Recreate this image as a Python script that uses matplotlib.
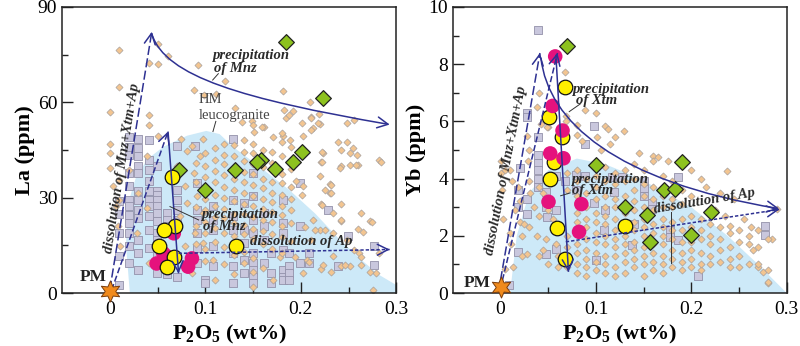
import matplotlib
matplotlib.use("Agg")
import matplotlib.pyplot as plt
from matplotlib.path import Path
from matplotlib.patches import Polygon, FancyArrowPatch

plt.rcParams['font.family'] = ['Liberation Serif', 'DejaVu Serif']
plt.rcParams['mathtext.fontset'] = 'custom'
plt.rcParams['mathtext.rm'] = 'Liberation Serif:bold'
plt.rcParams['mathtext.default'] = 'rm'

# ---------------------------------------------------------------- data: La
# background leucogranite data (P2O5 wt%, La ppm)
la_dia_scatter = [
    (0.010, 76.6), (0.050, 78.2), (0.061, 74.5), (0.041, 72.4), (0.050, 72.1),
    (0.010, 64.8), (0.121, 66.8), (0.092, 71.6), (0.088, 63.8), (0.099, 62.4),
    (0.111, 62.6), (0.000, 56.9), (0.041, 55.9), (0.041, 53.0), (0.051, 49.5),
    (0.000, 47.0), (0.000, 43.9), (0.000, 39.3), (0.010, 35.7), (0.003, 33.6),
    (0.006, 27.3), (0.131, 58.2), (0.181, 63.5), (0.182, 57.7), (0.192, 57.4),
    (0.184, 55.1), (0.211, 55.4), (0.219, 56.4), (0.201, 53.5), (0.138, 53.7),
    (0.149, 54.0), (0.151, 50.6), (0.161, 52.3), (0.171, 49.1), (0.181, 49.3),
    (0.189, 48.1), (0.202, 49.3), (0.213, 51.9), (0.220, 53.3), (0.248, 53.5),
    (0.256, 54.4), (0.248, 47.4), (0.255, 45.6), (0.251, 43.9), (0.259, 43.3),
    (0.260, 40.4), (0.251, 40.4), (0.282, 41.8), (0.242, 39.9), (0.223, 44.1),
    (0.221, 41.2), (0.230, 34.3), (0.231, 31.5), (0.221, 28.0), (0.242, 28.1),
    (0.242, 22.6), (0.260, 20.1), (0.263, 25.2), (0.272, 22.6), (0.282, 12.6),
    (0.279, 6.3), (0.263, 8.7), (0.251, 8.4), (0.242, 8.4), (0.221, 7.6),
    (0.275, 1.0), (0.201, 31.0), (0.195, 35.2), (0.202, 33.6), (0.220, 36.7),
    (0.234, 18.9), (0.220, 19.9), (0.211, 16.8), (0.248, 16.8), (0.234, 25.2),
    (0.213, 23.1), (0.261, 12.6), (0.234, 11.5), (0.206, 10.5), (0.210, 60.2),
    (0.188, 56.0), (0.211, 55.0), (0.218, 53.4), (0.180, 50.3), (0.211, 51.3),
    (0.159, 52.3), (0.150, 52.9), (0.222, 44.5), (0.222, 41.3), (0.239, 47.6),
    (0.242, 45.0), (0.241, 39.2), (0.258, 40.3), (0.284, 41.3), (0.232, 34.0),
    (0.232, 31.4), (0.225, 32.4), (0.222, 27.7), (0.242, 23.0), (0.274, 22.4),
    (0.225, 19.8), (0.215, 19.8), (0.204, 20.9), (0.265, 19.3), (0.263, 11.4),
    (0.256, 13.5), (0.272, 6.7), (0.194, 11.4), (0.208, 9.9), (0.223, 8.8),
    (0.246, 8.8), (0.232, 6.7), (0.202, 6.2), (0.171, 4.1), (0.178, 11.4),
    (0.010, 29.4), (0.009, 21.0), (0.011, 14.7), (0.020, 38.8), (0.039, 43.0),
    (0.081, 44.6), (0.094, 43.0), (0.075, 48.3), (0.086, 46.2), (0.098, 48.3),
    (0.030, 31.5), (0.039, 26.8), (0.028, 18.9), (0.041, 9.4), (0.070, 39.9),
    (0.079, 33.6), (0.088, 37.8), (0.081, 28.3), (0.091, 30.4), (0.098, 25.2),
    (0.089, 18.9), (0.079, 14.7), (0.098, 15.7), (0.108, 10.5), (0.086, 6.3),
    (0.110, 4.2), (0.074, 24.1), (0.130, 6.0), (0.150, 2.0), (0.120, 9.0),
]
# columns of analyses reported at 0.01 wt% P2O5 steps
la_dia_columns = [
    (0.09, [41.0, 35.0, 27.0, 21.0, 15.5]),
    (0.10, [44.0, 40.0, 36.5, 29.5, 26.0, 22.5, 19.0, 14.0, 10.0]),
    (0.11, [45.5, 42.0, 38.5, 35.0, 31.0, 27.5, 24.0, 20.5, 16.0]),
    (0.12, [47.0, 43.5, 40.5, 37.0, 33.5, 30.0, 26.5, 23.5, 19.0, 14.5]),
    (0.13, [46.5, 43.0, 36.0, 32.5, 29.0, 25.0, 22.0, 18.0, 12.0]),
    (0.14, [48.0, 44.5, 41.5, 38.0, 35.0, 31.5, 28.0, 25.0, 21.5, 18.5, 13.0, 9.5]),
    (0.15, [47.0, 44.0, 40.5, 37.5, 34.0, 30.5, 27.5, 24.0, 20.0, 17.0, 11.0, 6.5]),
    (0.16, [45.0, 39.5, 36.0, 33.0, 29.5, 26.5, 23.0, 19.5, 15.5, 8.0]),
    (0.17, [44.5, 41.0, 35.0, 31.5, 28.5, 25.5, 22.5, 18.5, 14.0]),
    (0.18, [47.5, 43.0, 37.5, 34.5, 31.0, 27.5, 24.5, 21.0, 17.5, 12.5]),
    (0.19, [46.0, 39.0, 33.5, 29.5, 26.0, 22.0, 16.5]),
]
la_sq_columns = [
    (0.010, [29.0, 25.0, 19.0, 11.5, 2.6]),
    (0.020, [49.0, 46.0, 43.5, 37.8, 33.6, 29.4, 27.3, 24.7, 22.0, 18.9, 14.7, 9.4]),
    (0.030, [48.4, 45.6, 43.0, 40.0, 37.8, 32.0, 29.4, 26.2, 23.6, 16.8, 12.6, 7.3]),
    (0.041, [48.2, 42.0, 38.8, 35.1, 32.0, 29.4, 27.3, 24.1, 19.9, 14.1]),
    (0.049, [39.9, 32.0, 30.9, 29.4, 27.3, 25.2, 22.6, 18.9, 16.8, 12.6, 6.3]),
    (0.060, [25.2, 23.1, 21.0, 18.9, 6.0]),
    (0.070, [46.3, 32.5, 29.4, 26.2, 23.1, 5.2]),
    (0.089, [46.3]),
    (0.091, [34.6, 26.2, 23.1, 18.9, 14.2, 9.4]),
    (0.100, [4.2, 3.1]),
    (0.108, [27.3, 23.1, 19.9, 14.7, 8.4]),
    (0.129, [48.4, 29.4, 24.1, 19.9, 12.6, 8.4, 3.1]),
    (0.140, [28.3, 19.9, 15.7, 10.5, 6.3]),
    (0.150, [37.8, 30.4, 23.1, 18.9, 12.6, 9.4, 7.3, 5.2, 3.1]),
    (0.161, [25.2, 21.0, 16.8, 9.4]),
    (0.169, [12.6, 6.3, 3.1]),
    (0.181, [29.4, 22.0, 18.9, 13.6, 7.3, 5.2, 4.2]),
    (0.188, [12.6, 8.4, 6.3, 4.2]),
    (0.199, [34.6, 21.0, 9.4]),
    (0.209, [12.6, 9.4]),
    (0.228, [26.2]),
    (0.239, [8.4]),
    (0.249, [17.8]),
    (0.277, [8.9, 14.7]),
]
# sample groups
la_green = [(0.184, 79.1), (0.223, 61.5), (0.201, 44.3), (0.192, 41.3),
            (0.158, 41.9), (0.154, 41.3), (0.173, 38.9), (0.131, 38.7),
            (0.100, 32.4), (0.072, 38.7)]
la_magenta = [(0.086, 10.9), (0.082, 8.3), (0.049, 9.3), (0.067, 18.8),
              (0.056, 12.5), (0.061, 11.4)]
la_yellow = [(0.065, 36.6), (0.068, 21.1), (0.057, 19.8), (0.052, 14.8),
             (0.067, 11.4), (0.060, 8.3), (0.132, 14.8)]
la_pm = (0.0, 0.8)
# HM leucogranite field outline
la_field = [(0.021, 0), (0.017, 15), (0.019, 28), (0.027, 36), (0.039, 42),
            (0.056, 46), (0.081, 49.5), (0.101, 51), (0.115, 50), (0.129, 46),
            (0.160, 39), (0.188, 32.4), (0.215, 25), (0.241, 16.7),
            (0.265, 10), (0.282, 5.7), (0.300, 2.5), (0.300, 0)]

# ---------------------------------------------------------------- data: Yb
yb_dia_scatter = [
    (0.000, 4.6), (0.000, 4.2), (0.002, 3.6), (0.003, 2.6), (0.005, 0.85),
    (0.010, 4.3), (0.012, 3.9), (0.010, 2.1), (0.011, 1.7), (0.018, 3.7),
    (0.020, 3.2), (0.020, 2.5), (0.022, 2.0), (0.028, 5.5), (0.030, 5.0),
    (0.029, 4.6), (0.030, 3.9), (0.031, 3.5), (0.030, 2.3), (0.028, 1.35),
    (0.040, 7.0), (0.038, 6.5), (0.042, 5.9), (0.040, 3.7), (0.040, 2.7),
    (0.038, 2.0), (0.040, 1.3), (0.050, 5.8), (0.050, 2.9), (0.048, 1.9),
    (0.050, 1.0), (0.060, 1.3), (0.060, 0.9), (0.068, 7.74), (0.069, 6.19),
    (0.069, 6.0), (0.049, 5.82), (0.080, 5.88), (0.080, 5.53), (0.089, 6.4),
    (0.100, 6.29), (0.110, 5.84), (0.113, 5.75), (0.129, 5.68), (0.120, 5.45),
    (0.101, 5.47), (0.085, 5.3), (0.105, 5.0), (0.115, 5.2), (0.145, 4.9),
    (0.160, 4.8), (0.165, 4.75), (0.175, 4.6), (0.200, 4.3), (0.210, 4.0),
    (0.237, 4.25), (0.215, 3.7), (0.230, 3.5), (0.245, 3.3), (0.225, 2.9),
    (0.290, 2.95), (0.285, 1.9), (0.265, 1.5), (0.275, 0.75), (0.280, 0.35),
    (0.240, 2.35), (0.262, 2.3), (0.270, 0.9), (0.255, 2.6), (0.235, 2.7),
    (0.005, 4.3), (0.015, 2.9), (0.025, 2.4), (0.035, 3.0), (0.045, 3.5),
    (0.055, 2.6), (0.058, 1.7), (0.045, 1.5), (0.022, 1.3), (0.013, 0.9),
]
yb_dia_columns = [
    (0.07, [0.9, 1.3, 1.6, 2.0, 3.6, 4.2]),
    (0.08, [0.7, 1.0, 1.4, 1.7, 2.5, 2.8, 3.4, 3.9, 4.3]),
    (0.09, [0.6, 0.9, 1.2, 1.5, 1.9, 2.3, 2.6, 3.0, 3.5, 4.0]),
    (0.10, [0.8, 1.1, 1.4, 1.8, 2.1, 2.5, 2.8, 3.3, 3.7, 4.1]),
    (0.11, [0.7, 1.0, 1.3, 1.7, 2.0, 2.4, 2.7, 3.0, 3.4, 3.9, 4.4]),
    (0.12, [0.6, 0.9, 1.3, 1.6, 1.9, 2.2, 2.6, 3.0, 3.3, 3.8, 4.2]),
    (0.13, [0.7, 1.1, 1.4, 1.7, 2.0, 2.8, 3.4, 3.9, 4.3]),
    (0.14, [0.9, 1.2, 1.5, 1.8, 2.2, 2.5, 2.9, 3.2, 3.6, 4.0, 4.5]),
    (0.15, [0.6, 1.0, 1.3, 1.6, 2.0, 2.3, 2.6, 3.0, 3.4, 3.8, 4.3]),
    (0.16, [0.8, 1.1, 1.4, 1.7, 2.1, 2.4, 2.9, 3.3, 3.7, 4.6]),
    (0.17, [0.7, 1.0, 1.3, 1.7, 2.0, 2.3, 2.6, 3.0, 3.4, 4.1]),
    (0.18, [0.9, 1.2, 1.5, 1.9, 2.2, 2.5, 3.0, 3.3, 3.9]),
    (0.19, [0.8, 1.1, 1.4, 1.8, 2.2, 2.6, 3.1, 3.6]),
    (0.20, [0.9, 1.2, 1.5, 1.8, 2.3, 2.7, 3.4]),
    (0.21, [0.8, 1.0, 1.4, 1.9, 2.2, 2.6]),
    (0.22, [1.0, 1.3, 1.7, 2.0, 2.4]),
    (0.23, [1.1, 1.5, 1.9, 2.3]),
    (0.24, [0.9, 1.2, 1.6, 2.1]),
    (0.25, [0.9, 1.3, 1.8, 2.2]),
    (0.26, [1.0, 1.7, 2.0]),
    (0.27, [1.0, 1.6, 2.2]),
    (0.28, [0.4, 0.8, 1.9]),
]
yb_sq = [
    (0.039, 9.18), (0.028, 6.29), (0.028, 6.17), (0.039, 5.47), (0.039, 4.82),
    (0.039, 4.53), (0.039, 4.30), (0.039, 4.00), (0.039, 3.70), (0.020, 4.36),
    (0.018, 3.60), (0.028, 3.30), (0.028, 2.78), (0.018, 3.00), (0.048, 3.54),
    (0.048, 3.01), (0.049, 2.66), (0.058, 2.90), (0.058, 1.55), (0.048, 1.38),
    (0.018, 1.44), (0.098, 5.84), (0.089, 5.21), (0.079, 4.12), (0.089, 4.10),
    (0.098, 3.13), (0.100, 1.14), (0.108, 2.20), (0.119, 3.54), (0.117, 4.07),
    (0.127, 4.07), (0.138, 1.67), (0.150, 3.66), (0.150, 3.90), (0.150, 3.40),
    (0.159, 3.13), (0.159, 2.95), (0.178, 2.20), (0.178, 1.96), (0.186, 1.85),
    (0.186, 4.07), (0.207, 0.58), (0.277, 2.34), (0.277, 2.02), (0.009, 0.27),
    (0.068, 3.90), (0.079, 3.60), (0.058, 4.10), (0.110, 2.90), (0.140, 2.40),
]
yb_green = [(0.070, 8.64), (0.0997, 4.47), (0.190, 4.57), (0.1715, 3.60),
            (0.183, 3.62), (0.130, 3.01), (0.153, 2.72), (0.221, 2.84),
            (0.200, 2.02), (0.157, 1.79)]
yb_yellow = [(0.0674, 7.20), (0.0503, 6.17), (0.064, 5.44), (0.056, 4.59),
             (0.052, 3.98), (0.0587, 2.26), (0.130, 2.34), (0.0677, 1.20)]
yb_magenta = [(0.0573, 8.27), (0.0545, 6.54), (0.065, 5.68), (0.0521, 4.88),
              (0.066, 4.71), (0.0503, 3.19), (0.0847, 3.11), (0.0823, 2.14)]
yb_pm = (0.0, 0.22)
yb_field = [(0.010, 0), (0.017, 2.0), (0.030, 3.5), (0.050, 4.3), (0.080, 4.7),
            (0.110, 4.5), (0.146, 4.0), (0.200, 3.0), (0.238, 2.0),
            (0.270, 1.0), (0.300, 0.0)]

# ---------------------------------------------------------------- styles
BLUE = '#2e3192'
FIELD = '#cde9f8'
TXT = '#2a2a2a'
ITAL = dict(style='italic', fontweight='bold', fontsize=10.5, color=TXT, zorder=9)


def expand(cols):
    xs, ys = [], []
    for x, vals in cols:
        xs += [x] * len(vals)
        ys += vals
    return xs, ys


def split(pairs):
    return [p[0] for p in pairs], [p[1] for p in pairs]


def straight(ax, a, b, ls, head=True, dashes=None):
    kw = dict(color=BLUE, lw=1.1, zorder=8, solid_capstyle='butt')
    line, = ax.plot([a[0], b[0]], [a[1], b[1]], ls=ls, **kw)
    if dashes:
        line.set_dashes(dashes)
    if head:
        t = 0.985
        tail = (a[0] + (b[0] - a[0]) * t, a[1] + (b[1] - a[1]) * t)
        ax.add_patch(FancyArrowPatch(tail, b, arrowstyle='->,head_length=0.55,head_width=0.28',
                                     mutation_scale=14, color=BLUE, lw=1.1,
                                     shrinkA=0, shrinkB=0, zorder=8))


def curve(ax, ctrl):
    path = Path(ctrl, [Path.MOVETO, Path.CURVE4, Path.CURVE4, Path.CURVE4])
    ax.add_patch(FancyArrowPatch(path=path, arrowstyle='->,head_length=0.55,head_width=0.28',
                                 mutation_scale=14, color=BLUE, lw=1.1, zorder=8))


def leader(ax, a, b):
    ax.plot([a[0], b[0]], [a[1], b[1]], color='#333333', lw=0.7, zorder=9)


def background(ax, field, dia, sq):
    ax.add_patch(Polygon(field, closed=True, facecolor=FIELD, edgecolor='none', zorder=0.5))
    ax.scatter(*sq, marker='s', s=28, facecolor='#c9c7dd', edgecolor='#9391aa',
               linewidths=0.6, zorder=2)
    ax.scatter(*dia, marker='D', s=13, facecolor='#f3c590', edgecolor='#a8a09c',
               linewidths=0.5, zorder=2.5)


def groups(ax, green, yellow, magenta, pm, yellow_on_top):
    ax.scatter(*split(green), marker='D', s=64, facecolor='#8dc21f',
               edgecolor='#222222', linewidths=0.9, zorder=4)
    zy, zm = (6, 5) if yellow_on_top else (5, 6)
    ax.scatter(*split(yellow), marker='o', s=110, facecolor='#fff000',
               edgecolor='#111111', linewidths=0.9, zorder=zy)
    ax.scatter(*split(magenta), marker='o', s=110, facecolor='#e5127d',
               edgecolor='none', zorder=zm)
    ax.scatter([pm[0]], [pm[1]], marker=(6, 1, 0), s=230, facecolor='#f08a1c',
               edgecolor='#7a3d0c', linewidths=0.7, zorder=10, clip_on=False)


def frame(ax, ylim, major, minor, ylabel):
    ax.set_xlim(-0.05, 0.30)
    ax.set_ylim(*ylim)
    ax.set_xticks([0, 0.1, 0.2, 0.3])
    ax.set_xticklabels(['0', '0.1', '0.2', '0.3'])
    ax.set_xticks([0.05, 0.15, 0.25], minor=True)
    ax.set_yticks(major)
    ax.set_yticks(minor, minor=True)
    ax.tick_params(which='both', direction='in', top=False, right=False,
                   labelsize=14, width=1.0, colors='#222222', labelcolor='black')
    ax.tick_params(which='major', length=8)
    ax.tick_params(which='minor', length=4.5)
    ax.tick_params(axis='x', pad=6)
    for s in ax.spines.values():
        s.set_linewidth(1.1)
        s.set_color('#222222')
    ax.set_xlabel(r'$\mathrm{P_2O_5}$ (wt%)', fontsize=16, fontweight='bold', labelpad=3)
    ax.set_ylabel(ylabel, fontsize=16, fontweight='bold', labelpad=2)
    for lab in ax.get_xticklabels():
        lab.set_clip_on(False)


fig = plt.figure(figsize=(8.0, 3.46), dpi=100)
axL = fig.add_axes([0.0775, 0.153, 0.418, 0.827])
axR = fig.add_axes([0.566, 0.153, 0.4175, 0.827])

# ---------------------------------------------------------------- La panel
dx, dy = expand(la_dia_columns)
sx, sy = split(la_dia_scatter)
qx, qy = expand(la_sq_columns)
background(axL, la_field, (sx + dx, sy + dy), (qx, qy))
groups(axL, la_green, la_yellow, la_magenta, la_pm, yellow_on_top=True)

straight(axL, (0.0, 1.0), (0.044, 82.2), '--', dashes=(6, 2.2))
straight(axL, (0.002, 1.0), (0.061, 50.8), '--', dashes=(4, 1.8))
straight(axL, (0.061, 50.8), (0.072, 6.2), '-')
straight(axL, (0.072, 12.5), (0.293, 13.7), '--', dashes=(2.2, 1.3))
curve(axL, [(0.044, 81.5), (0.058, 68.0), (0.140, 61.0), (0.293, 53.0)])

axL.text(0.107, 74.7, 'precipitation', va='center', **ITAL)
axL.text(0.109, 70.6, 'of Mnz', va='center', **ITAL)
leader(axL, (0.1136, 69.0), (0.1077, 67.0))
axL.text(0.0934, 60.9, 'HM', va='center', fontsize=10.5, color='#444444', zorder=9)
axL.text(0.0934, 55.8, 'leucogranite', va='center', fontsize=10.5, color='#444444', zorder=9)
leader(axL, (0.111, 54.0), (0.108, 50.8))
axL.text(0.0955, 24.7, 'precipitation', va='center', **ITAL)
axL.text(0.0975, 20.8, 'of Mnz', va='center', **ITAL)
leader(axL, (0.093, 23.0), (0.063, 27.2))
axL.text(0.147, 16.3, 'dissolution of Ap', va='center', **ITAL)
axL.text(0.0125, 39.3, 'dissolution of Mnz+Xtm+Ap', rotation=81, ha='center',
         va='center', rotation_mode='anchor', **ITAL)
axL.text(-0.017, 5.0, 'PM', ha='center', va='center', fontsize=12.5,
         fontweight='bold', color='#222222', zorder=11)

frame(axL, (0, 90), [0, 30, 60, 90], [15, 45, 75], 'La (ppm)')

# ---------------------------------------------------------------- Yb panel
dx, dy = expand(yb_dia_columns)
sx, sy = split(yb_dia_scatter)
background(axR, yb_field, (sx + dx, sy + dy), split(yb_sq))
groups(axR, yb_green, yb_yellow, yb_magenta, yb_pm, yellow_on_top=False)

straight(axR, (0.0, 0.45), (0.0413, 8.39), '--', dashes=(6, 2.2))
straight(axR, (0.002, 0.45), (0.0597, 8.39), '--', dashes=(4, 1.8))
straight(axR, (0.058, 8.33), (0.0712, 0.74), '-')
straight(axR, (0.0684, 1.79), (0.292, 2.92), '--', dashes=(2.2, 1.3))
curve(axR, [(0.0424, 8.21), (0.050, 6.0), (0.120, 3.9), (0.292, 2.95)])

axR.text(0.0753, 7.13, 'precipitation', va='center', **ITAL)
axR.text(0.0788, 6.72, 'of Xtm', va='center', **ITAL)
leader(axR, (0.084, 6.62), (0.072, 6.34))
axR.text(0.0736, 3.98, 'precipitation', va='center', **ITAL)
axR.text(0.0753, 3.57, 'of Xtm', va='center', **ITAL)
leader(axR, (0.073, 3.50), (0.063, 3.40))
axR.text(0.214, 3.20, 'dissolution of Ap', rotation=9.5, ha='center', va='center',
         rotation_mode='anchor', **ITAL)
leader(axR, (0.179, 2.84), (0.179, 1.04))
axR.text(0.006, 4.3, 'dissolution of Mnz+Xtm+Ap', rotation=79, ha='center',
         va='center', rotation_mode='anchor', **ITAL)
axR.text(-0.024, 0.36, 'PM', ha='center', va='center', fontsize=12.5,
         fontweight='bold', color='#222222', zorder=11)

frame(axR, (0, 10), [0, 2, 4, 6, 8, 10], [1, 3, 5, 7, 9], 'Yb (ppm)')

fig.savefig('out.png', dpi=100)
